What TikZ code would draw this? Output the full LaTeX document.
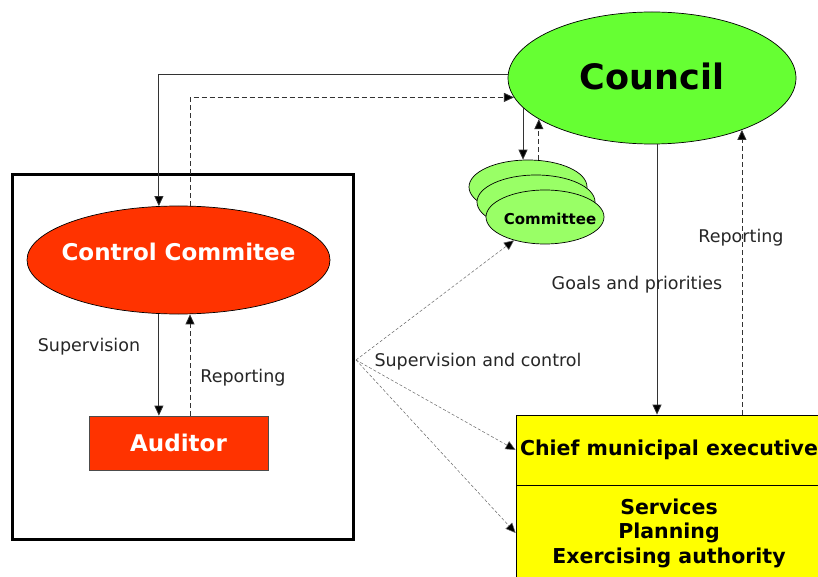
\documentclass[tikz,border=0pt]{standalone}
\usepackage{fontspec}
\setmainfont{DejaVu Sans}
\usetikzlibrary{shapes.geometric,arrows.meta}
\definecolor{councilgreen}{HTML}{66FF33}
\definecolor{commgreen}{HTML}{99FF66}
\definecolor{ctrlred}{HTML}{FF3300}
\definecolor{execyellow}{HTML}{FFFF00}
\definecolor{linegray}{HTML}{333333}
\definecolor{fangray}{HTML}{666666}
\tikzset{
  arr/.style={draw=linegray, line width=0.8pt, -{Triangle[length=10pt,width=9pt,fill=black]}},
  dsh/.style={dash pattern=on 5pt off 3pt},
  fanarr/.style={draw=fangray, line width=0.5pt, dash pattern=on 3pt off 2pt, -{Triangle[length=10pt,width=9pt,fill=black]}},
  oval/.style={ellipse, draw=black, line width=0.7pt, inner sep=0pt},
  commoval/.style={oval, fill=commgreen, minimum width=118pt, minimum height=54pt},
  lbl/.style={font=\fontsize{17.5}{20}\selectfont, text=black!85, inner sep=0pt},
}
\newcommand{\zbox}[2][0pt]{\makebox[0pt]{\raisebox{#1}[0pt][0pt]{#2}}}
\begin{document}
\begin{tikzpicture}[x=1pt,y=-1pt]
\clip (0,0) rectangle (818,577);
\fill[white] (0,0) rectangle (818,577);

% left frame
\node[draw=black, line width=3pt, minimum width=341pt, minimum height=364pt, inner sep=0pt] (bigbox) at (182.5,357) {};

% council
\node[oval, fill=councilgreen, minimum width=288pt, minimum height=132pt, font=\bfseries\fontsize{35}{40}\selectfont] (council) at (652,78) {\zbox[-12pt]{Council}};

% committees
\node[commoval] (cb) at (528,187) {};
\node[commoval] (cm) at (536,202) {};
\node[commoval, font=\bfseries\fontsize{15}{18}\selectfont] (cf) at (545,217) {\zbox[-8pt]{\hspace{10pt}Committee}};

% control committee
\node[oval, fill=ctrlred, minimum width=303pt, minimum height=108pt, text=white, font=\bfseries\fontsize{23}{26}\selectfont] (ctrl) at (178.5,260) {\zbox[0pt]{Control Commitee}};

% auditor
\node[draw=black!70, line width=0.7pt, fill=ctrlred, minimum width=179pt, minimum height=54pt, inner sep=0pt, text=white, font=\bfseries\fontsize{23}{26}\selectfont] (aud) at (178.5,443) {Auditor};

% yellow boxes
\node[draw=black, line width=0.8pt, fill=execyellow, minimum width=306pt, minimum height=70pt, inner sep=0pt, font=\bfseries\fontsize{20.5}{24}\selectfont] (chief) at (669,450) {\raisebox{-2pt}{Chief municipal executive}};
\node[draw=black, line width=0.8pt, fill=execyellow, minimum width=306pt, minimum height=96pt, inner sep=0pt, align=center, font=\bfseries\fontsize{20.5}{24.5}\selectfont] (serv) at (669,533) {Services\\Planning\\Exercising authority};

% labels
\node[lbl] (l1) at (89,347) {Supervision};
\node[lbl] (l2) at (243,378) {Reporting};
\node[lbl] (l3) at (478,362) {Supervision and control};
\node[lbl] (l4) at (637,285) {Goals and priorities};
\node[lbl] (l5) at (741,238) {Reporting};

% council <-> control committee
\draw[arr] ([yshift=4pt]council.west) -| (ctrl.110);
\draw[arr, dsh] (ctrl.78) |- (council.188);

% council <-> committees
\draw[arr] (council.193) -- (council.193 |- cb.north);
\draw[arr, dsh] (council.200 |- cb.north) -- (council.200);

% control committee <-> auditor
\draw[arr] (ctrl.south -| ctrl.110) -- (aud.north -| ctrl.110);
\draw[arr, dsh] (aud.north -| ctrl.78) -- (ctrl.south -| ctrl.78);

% council <-> chief
\draw[arr] ([xshift=5pt]council.south) -- ([xshift=5pt]council.south |- chief.north);
\draw[arr, dsh] (council.330 |- chief.north) -- (council.330);

% fan from frame
\coordinate (fan) at ([yshift=-3pt,xshift=1.5pt]bigbox.east);
\draw[fanarr] (fan) -- (cf.217);
\draw[fanarr] (fan) -- (chief.west);
\draw[fanarr] (fan) -- (serv.west);
\end{tikzpicture}
\end{document}
